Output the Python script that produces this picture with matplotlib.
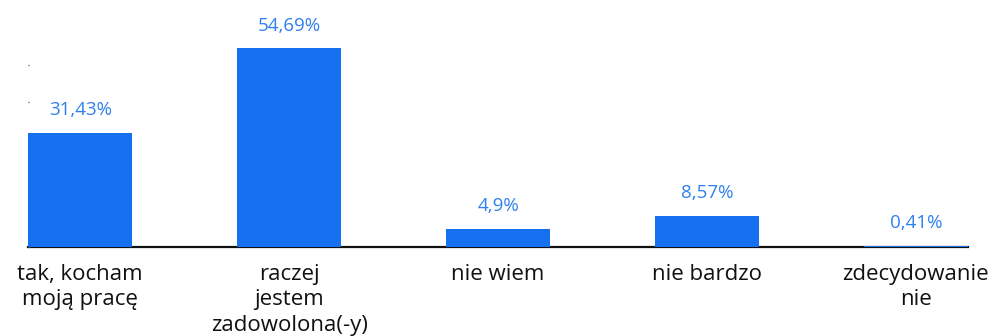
import matplotlib
matplotlib.use("Agg")
import matplotlib.pyplot as plt

categories = ["tak, kocham\nmoją pracę", "raczej\njestem\nzadowolona(-y)", "nie wiem", "nie bardzo", "zdecydowanie\nnie"]
values = [31.43, 54.69, 4.9, 8.57, 0.41]
value_labels = ["31,43%", "54,69%", "4,9%", "8,57%", "0,41%"]

plt.rcParams["font.family"] = ["Open Sans", "DejaVu Sans"]

fig = plt.figure(figsize=(9.99, 3.36), dpi=100)
ax = fig.add_axes([28 / 999, 89 / 336, 940 / 999, 217.8 / 336])

bar_color = "#1570EF"
label_color = "#2F80ED"

x = range(len(values))
bars = ax.bar(x, values, width=0.5, color=bar_color, zorder=2)

for rect, lab in zip(bars, value_labels):
    ax.annotate(lab, (rect.get_x() + rect.get_width() / 2, rect.get_height()),
                xytext=(0, 10), textcoords="offset points", ha="center", va="bottom",
                color=label_color, fontsize=13.5, annotation_clip=False)

ax.set_xlim(-0.25, 4.25)
ax.set_ylim(0, 60)
ax.set_xticks(list(x))
ax.set_xticklabels(categories, fontsize=16, color="#111111", linespacing=1.28)
ax.set_yticks([0, 10, 20, 30, 40, 50])
ax.set_yticklabels([])
ax.tick_params(axis="y", length=1, width=1, color="#555555", direction="in")
ax.tick_params(axis="x", length=0, pad=12)

for side in ["top", "right", "left"]:
    ax.spines[side].set_visible(False)
ax.spines["bottom"].set_linewidth(1.6)
ax.spines["bottom"].set_color("#111111")
ax.spines["bottom"].set_zorder(1)

fig.savefig("out.png", dpi=100)
